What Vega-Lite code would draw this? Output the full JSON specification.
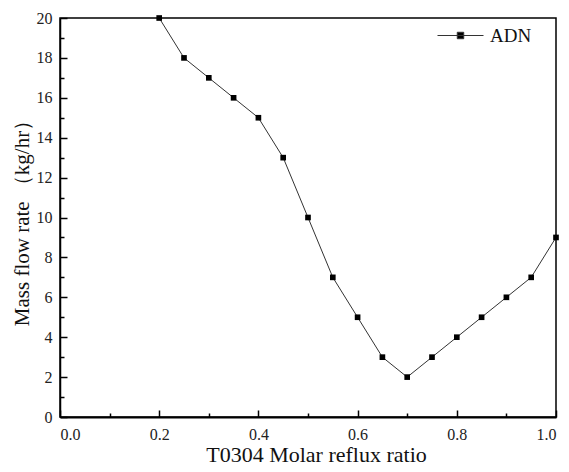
{
  "$schema": "https://vega.github.io/schema/vega-lite/v6.json",
  "width": 496,
  "height": 399,
  "autosize": "none",
  "padding": {"left": 60, "top": 18, "right": 13, "bottom": 55},
  "background": "white",
  "config": {
    "view": {"stroke": "#000", "strokeWidth": 1.5},
    "font": "Liberation Serif",
    "axis": {
      "grid": false,
      "ticks": true,
      "domainColor": "#000",
      "domainWidth": 1.5,
      "tickColor": "#000",
      "tickWidth": 1.5,
      "labelFont": "Liberation Serif",
      "labelFontSize": 16,
      "labelColor": "#222",
      "titleFont": "Liberation Serif",
      "titleFontWeight": "normal",
      "titleColor": "#111"
    }
  },
  "data": {
    "values": [
      {"r": 0.2, "m": 20, "s": "ADN"},
      {"r": 0.25, "m": 18, "s": "ADN"},
      {"r": 0.3, "m": 17, "s": "ADN"},
      {"r": 0.35, "m": 16, "s": "ADN"},
      {"r": 0.4, "m": 15, "s": "ADN"},
      {"r": 0.45, "m": 13, "s": "ADN"},
      {"r": 0.5, "m": 10, "s": "ADN"},
      {"r": 0.55, "m": 7, "s": "ADN"},
      {"r": 0.6, "m": 5, "s": "ADN"},
      {"r": 0.65, "m": 3, "s": "ADN"},
      {"r": 0.7, "m": 2, "s": "ADN"},
      {"r": 0.75, "m": 3, "s": "ADN"},
      {"r": 0.8, "m": 4, "s": "ADN"},
      {"r": 0.85, "m": 5, "s": "ADN"},
      {"r": 0.9, "m": 6, "s": "ADN"},
      {"r": 0.95, "m": 7, "s": "ADN"},
      {"r": 1.0, "m": 9, "s": "ADN"}
    ]
  },
  "layer": [
    {
      "mark": {"type": "line", "strokeWidth": 1, "color": "#333"},
      "encoding": {
        "x": {
          "field": "r", "type": "quantitative",
          "scale": {"domain": [0, 1], "nice": false},
          "axis": {
            "orient": "bottom",
            "values": [0, 0.2, 0.4, 0.6, 0.8, 1.0],
            "format": ".1f",
            "tickSize": -7,
            "domainWidth": 2,
            "labelPadding": 16,
            "title": "T0304 Molar reflux ratio",
            "titleFontSize": 22,
            "titlePadding": 2,
            "titleX": 256
          }
        },
        "y": {
          "field": "m", "type": "quantitative",
          "scale": {"domain": [0, 20], "nice": false},
          "axis": {
            "orient": "left",
            "values": [0, 2, 4, 6, 8, 10, 12, 14, 16, 18, 20],
            "tickSize": -7,
            "labelPadding": 15,
            "title": "Mass flow rate （kg/hr）",
            "titleFontSize": 21,
            "titlePadding": 4
          }
        },
        "color": {
          "field": "s", "type": "nominal",
          "scale": {"range": ["#333"]},
          "legend": {
            "title": null,
            "orient": "none",
            "legendX": 377,
            "legendY": -6,
            "padding": 0,
            "symbolType": "M-1,0H1M-0.14,-0.14H0.14V0.14H-0.14Z",
            "symbolSize": 2116,
            "symbolStrokeWidth": 1,
            "symbolFillColor": "#000",
            "labelFont": "Liberation Serif",
            "labelFontSize": 19,
            "labelColor": "#111",
            "labelOffset": 6
          }
        }
      }
    },
    {
      "mark": {"type": "point", "shape": "square", "filled": true, "size": 32, "color": "#000", "opacity": 1},
      "encoding": {
        "x": {
          "field": "r", "type": "quantitative",
          "axis": {
            "orient": "bottom",
            "values": [0.1, 0.3, 0.5, 0.7, 0.9],
            "labels": false,
            "domain": false,
            "tickSize": -4,
            "title": null
          }
        },
        "y": {
          "field": "m", "type": "quantitative",
          "axis": {
            "orient": "left",
            "values": [1, 3, 5, 7, 9, 11, 13, 15, 17, 19],
            "labels": false,
            "domain": false,
            "tickSize": -4,
            "title": null
          }
        }
      }
    }
  ],
  "resolve": {"axis": {"x": "independent", "y": "independent"}}
}
